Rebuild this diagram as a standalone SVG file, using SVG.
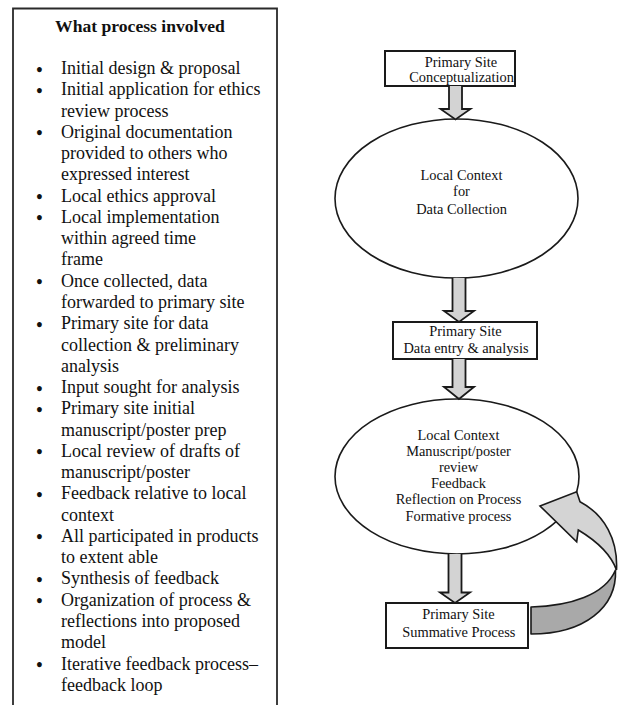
<svg xmlns="http://www.w3.org/2000/svg" width="619" height="705" viewBox="0 0 619 705">
<style>
.bg{fill:#ffffff}
.panel{fill:none;stroke:#2a2a2a;stroke-width:1.8}
.title{font-family:"Liberation Serif","Times New Roman",serif;font-size:17.6px;font-weight:bold;fill:#111;text-anchor:middle}
.item{font-family:"Liberation Serif","Times New Roman",serif;font-size:18px;fill:#111}
.bul{font-family:"Liberation Serif","Times New Roman",serif;font-size:18px;font-weight:bold;fill:#111;text-anchor:middle}
.box{fill:#ffffff;stroke:#1a1a1a;stroke-width:2}
.ell{fill:#ffffff;stroke:#1a1a1a;stroke-width:1.6}
.lbl{font-family:"Liberation Serif","Times New Roman",serif;font-size:14.4px;fill:#111;text-anchor:middle}
.blk{fill:#d3d3d3;stroke:#1a1a1a;stroke-width:1.8;stroke-linejoin:miter}
.rib-top{fill:#d4d4d4;stroke:#1a1a1a;stroke-width:1.6;stroke-linejoin:miter}
.rib-bot{fill:#a9a9a9;stroke:#1a1a1a;stroke-width:1.6;stroke-linejoin:round}
</style>
<rect class="bg" x="0" y="0" width="619" height="705"/>

<g id="process-list">
<path class="panel" d="M13,705 L13,8.5 L277,8.5 L277,705"/>
<text class="title" x="140" y="31.7">What process involved</text>
<g id="bullets">
<text class="bul" x="39.5" y="75.5">•</text>
<text class="bul" x="39.5" y="96.77">•</text>
<text class="bul" x="39.5" y="139.31">•</text>
<text class="bul" x="39.5" y="203.12">•</text>
<text class="bul" x="39.5" y="224.39">•</text>
<text class="bul" x="39.5" y="288.2">•</text>
<text class="bul" x="39.5" y="330.74">•</text>
<text class="bul" x="39.5" y="394.55">•</text>
<text class="bul" x="39.5" y="415.82">•</text>
<text class="bul" x="39.5" y="458.36">•</text>
<text class="bul" x="39.5" y="500.9">•</text>
<text class="bul" x="39.5" y="543.44">•</text>
<text class="bul" x="39.5" y="585.98">•</text>
<text class="bul" x="39.5" y="607.25">•</text>
<text class="bul" x="39.5" y="671.06">•</text>
</g>
<text class="item">
<tspan x="61" y="74">Initial design &amp; proposal</tspan>
<tspan x="61" y="95.27">Initial application for ethics</tspan>
<tspan x="61" y="116.54">review process</tspan>
<tspan x="61" y="137.81">Original documentation</tspan>
<tspan x="61" y="159.08">provided to others who</tspan>
<tspan x="61" y="180.35">expressed interest</tspan>
<tspan x="61" y="201.62">Local ethics approval</tspan>
<tspan x="61" y="222.89">Local implementation</tspan>
<tspan x="61" y="244.16">within agreed time</tspan>
<tspan x="61" y="265.43">frame</tspan>
<tspan x="61" y="286.7">Once collected, data</tspan>
<tspan x="61" y="307.97">forwarded to primary site</tspan>
<tspan x="61" y="329.24">Primary site for data</tspan>
<tspan x="61" y="350.51">collection &amp; preliminary</tspan>
<tspan x="61" y="371.78">analysis</tspan>
<tspan x="61" y="393.05">Input sought for analysis</tspan>
<tspan x="61" y="414.32">Primary site initial</tspan>
<tspan x="61" y="435.59">manuscript/poster prep</tspan>
<tspan x="61" y="456.86">Local review of drafts of</tspan>
<tspan x="61" y="478.13">manuscript/poster</tspan>
<tspan x="61" y="499.4">Feedback relative to local</tspan>
<tspan x="61" y="520.67">context</tspan>
<tspan x="61" y="541.94">All participated in products</tspan>
<tspan x="61" y="563.21">to extent able</tspan>
<tspan x="61" y="584.48">Synthesis of feedback</tspan>
<tspan x="61" y="605.75">Organization of process &amp;</tspan>
<tspan x="61" y="627.02">reflections into proposed</tspan>
<tspan x="61" y="648.29">model</tspan>
<tspan x="61" y="669.56">Iterative feedback process–</tspan>
<tspan x="61" y="690.83">feedback loop</tspan>
</text>
</g>

<g id="node-conceptualization">
<rect class="box" x="385" y="51" width="130" height="35"/>
<text class="lbl" x="461" y="66.7">Primary Site</text>
<text class="lbl" x="461.5" y="82.3">Conceptualization</text>
</g>

<g id="node-data-collection">
<ellipse class="ell" cx="456.5" cy="198.5" rx="121.5" ry="79.5"/>
<text class="lbl" x="461.5" y="180.3">Local Context</text>
<text class="lbl" x="461.5" y="196.3">for</text>
<text class="lbl" x="461.5" y="214.3">Data Collection</text>
</g>

<g id="node-data-entry">
<rect class="box" x="393" y="322" width="144" height="37"/>
<text class="lbl" x="465.5" y="336.3">Primary Site</text>
<text class="lbl" x="466" y="353">Data entry &amp; analysis</text>
</g>

<g id="node-review">
<ellipse class="ell" cx="457" cy="476.5" rx="122" ry="77.5"/>
<text class="lbl" x="458.5" y="440">Local Context</text>
<text class="lbl" x="458.5" y="456">Manuscript/poster</text>
<text class="lbl" x="458.5" y="471.8">review</text>
<text class="lbl" x="458.5" y="488.3">Feedback</text>
<text class="lbl" x="458.5" y="504.3">Reflection on Process</text>
<text class="lbl" x="458.5" y="520.7">Formative process</text>
</g>

<g id="node-summative">
<rect class="box" x="386" y="603" width="142" height="45"/>
<text class="lbl" x="458.5" y="619">Primary Site</text>
<text class="lbl" x="458.8" y="637.3">Summative Process</text>
</g>

<g id="connectors">
<path class="blk" d="M449,86 L449,109 L440.5,109 L455.5,119.5 L470.5,109 L462,109 L462,86"/>
<path class="blk" d="M452.5,278 L452.5,311 L444,311 L459,322 L474,311 L465.5,311 L465.5,278"/>
<path class="blk" d="M452.5,359 L452.5,387 L444,387 L459,399 L474,387 L465.5,387 L465.5,359"/>
<path class="blk" d="M448.5,554 L448.5,592.5 L440,592.5 L455,603 L470,592.5 L461.5,592.5 L461.5,554"/>
<g id="feedback-loop">
<path class="rib-bot" d="M531,607 C570,606 605,595 615.5,570 C617,607 585,634 531,634 Z"/>
<path class="rib-top" d="M540,506 L576.7,491.7 L580,501.7 C605,515 618,540 616.5,570 C610,552 595,540 578.3,530 L576.7,541.7 Z"/>
</g>
</g>
</svg>
